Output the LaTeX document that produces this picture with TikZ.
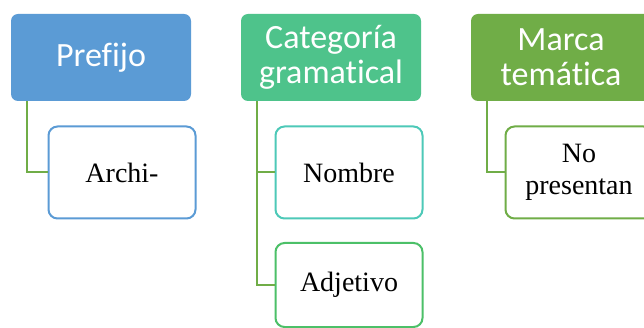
\documentclass[tikz,border=0pt]{standalone}
\usepackage{fontspec}
\setmainfont{Liberation Serif}
\newfontfamily\hdfont[Ligatures=NoCommon]{Carlito}
\definecolor{cblue}{HTML}{5B9BD5}
\definecolor{cgreenA}{HTML}{4EC38B}
\definecolor{cgreenB}{HTML}{70AD47}
\definecolor{cteal}{HTML}{4DC9B8}
\definecolor{cgreenC}{HTML}{4CC068}
\tikzset{
  hdbox/.style={rounded corners=7pt, minimum width=180pt, minimum height=87pt, inner sep=0pt,
    text=white, align=center, font=\hdfont\fontsize{34}{35}\selectfont},
  childbox/.style={draw, line width=2pt, fill=white, rounded corners=9pt, minimum width=147pt,
    minimum height=92pt, inner sep=0pt, align=center, font=\fontsize{28}{32}\selectfont},
  conn/.style={draw=cgreenB, line width=2pt}
}
\begin{document}
\begin{tikzpicture}[x=1pt,y=-1pt]
\path[use as bounding box, clip] (0,0) rectangle (644,328);
\fill[white] (0,0) rectangle (644,328);
% headers
\node[hdbox, fill=cblue] (h1) at (101,57.5) {Prefijo};
\node[hdbox, fill=cgreenA] (h2) at (331,57.5) {Categoría\\gramatical};
\node[hdbox, fill=cgreenB] (h3) at (561,57.5) {Marca\\temática};
% children
\node[childbox, draw=cblue] (c1) at (122,172.5) {Archi-};
\node[childbox, draw=cteal] (c2) at (349,172.5) {Nombre};
\node[childbox, draw=cgreenC, minimum height=84pt] (c3) at (349,285) {Adjetivo};
\node[childbox, draw=cgreenB] (c4) at (579,172.5) {No\\presentan};
% connectors
\draw[conn] ([xshift=16pt]h1.south west) |- (c1.west);
\draw[conn] ([xshift=16pt]h2.south west) |- (c2.west);
\draw[conn] ([xshift=16pt]h2.south west) |- (c3.west);
\draw[conn] ([xshift=16pt]h3.south west) |- (c4.west);
\end{tikzpicture}
\end{document}
